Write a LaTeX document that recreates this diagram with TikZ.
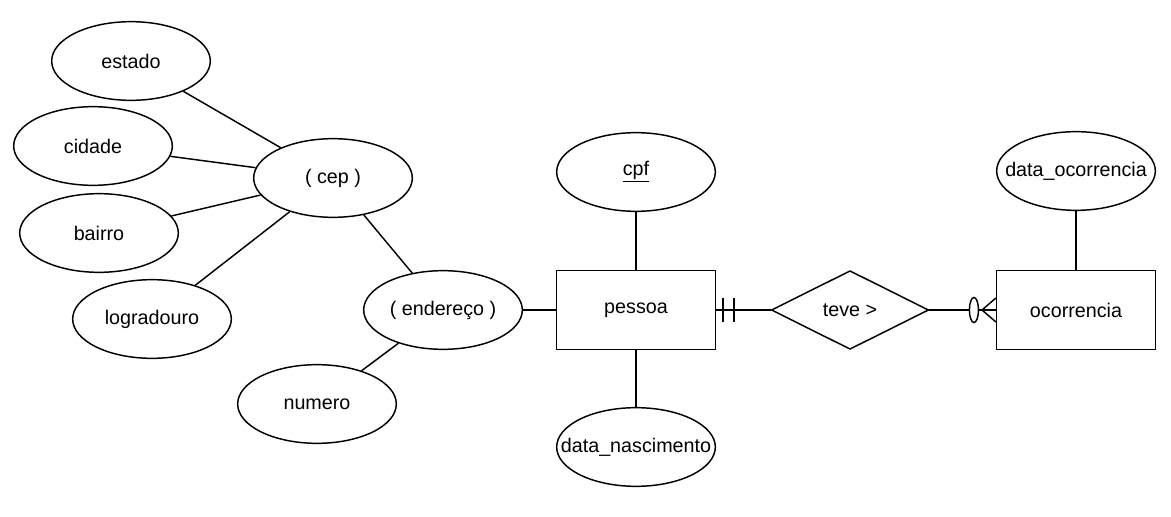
\documentclass[tikz,border=0pt]{standalone}
\usepackage{fontspec}
\setmainfont{Liberation Sans}
\usetikzlibrary{shapes.geometric,calc}
\newcommand{\erfont}{\fontsize{14.8}{17}\selectfont}
\tikzset{every picture/.style={line width=1.1pt}}
\tikzset{
  attrib/.style={draw, ellipse, minimum width=119pt, minimum height=59pt, inner sep=0pt, label={[font=\erfont]center:#1}},
  entity/.style={draw, rectangle, minimum width=119pt, minimum height=59.5pt, inner sep=0pt, font=\erfont},
  relship/.style={draw, diamond, minimum width=118pt, minimum height=59pt, inner sep=0pt, font=\erfont},
}

\begin{document}
\begin{tikzpicture}[x=0.75pt,y=0.75pt,yscale=-1,xscale=1]
\path[use as bounding box] (0,0) rectangle (1171,517);

%Shape: Ellipse (attributes of cep)
\node[attrib={estado}] (estado) at (131,61) {};
\node[attrib={cidade}] (cidade) at (93,146) {};
\node[attrib={bairro}] (bairro) at (99,233) {};
\node[attrib={logradouro}] (logradouro) at (152,319) {};
%Shape: Ellipse (composite attributes)
\node[attrib={( cep )}] (cep) at (333,178) {};
\node[attrib={( endereço )}] (endereco) at (443,310) {};
\node[attrib={numero}] (numero) at (317,404) {};
%Rect: entity
\node[entity] (pessoa) at (636,310) {pessoa};
\node[attrib={\underline{cpf}}] (cpf) at (636,172) {};
\node[attrib={data\_nascimento}] (nascimento) at (636,447) {};
%Diamond: relationship
\node[relship] (teve) at (850,310) {teve >};
%Rect: entity
\node[entity] (ocorrencia) at (1076,310) {ocorrencia};
\node[attrib={data\_ocorrencia}] (dataocorr) at (1076,171) {};

%Straight Lines
\draw (estado) -- (cep);
\draw (cidade) -- (cep);
\draw (bairro) -- (cep);
\draw (logradouro) -- (cep);
\draw (cep) -- (endereco);
\draw (numero) -- (endereco);
\draw (endereco) -- (pessoa);
\draw (cpf) -- (pessoa);
\draw (nascimento) -- (pessoa);
\draw (dataocorr) -- (ocorrencia);
\draw (pessoa) -- (teve);
\draw (teve) -- (ocorrencia);

%Cardinality: one and only one
\draw ($(pessoa.east)+(7,-12)$) -- ++(0,24);
\draw ($(pessoa.east)+(18,-12)$) -- ++(0,24);
%Cardinality: zero or many
\draw ($(ocorrencia.west)+(-14,0)$) -- ($(ocorrencia.west)+(0,-12)$);
\draw ($(ocorrencia.west)+(-14,0)$) -- ($(ocorrencia.west)+(0,12)$);
\draw[fill=white] ($(ocorrencia.west)+(-22,0)$) ellipse [x radius=3.4pt, y radius=9.4pt];

\end{tikzpicture}
\end{document}
